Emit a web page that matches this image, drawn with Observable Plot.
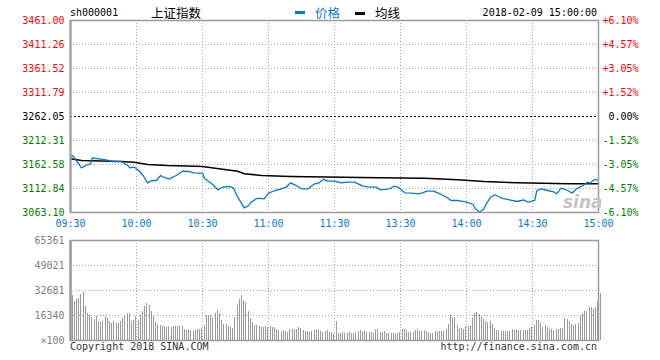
<!DOCTYPE html>
<html><head><meta charset="utf-8">
<script src="https://cdn.jsdelivr.net/npm/d3@7"></script>
<script src="https://cdn.jsdelivr.net/npm/@observablehq/plot@0.6"></script>
<style>
body{margin:0;background:#fff;}
#wrap{position:relative;width:660px;height:360px;overflow:hidden;font-family:"DejaVu Sans Mono",monospace;font-size:10px;color:#000;}
.abs{position:absolute;white-space:nowrap;line-height:12px;}
#price,#vol{position:absolute;left:0;}
.dash{position:absolute;width:10px;height:3px;}
</style></head><body>
<div id="wrap">
  <div id="price" style="top:0"></div>
  <div id="vol" style="top:230px"></div>
  <span class="abs" id="code" style="left:70px;top:7px;"></span>
  <span class="abs" id="name" style="left:151px;top:6px;font-family:'Noto Sans CJK SC',sans-serif;font-size:12.5px;line-height:13px;"></span>
  <span class="dash" style="left:295px;top:11px;background:#0a78c8;"></span>
  <span class="abs" id="lg1" style="left:315px;top:6px;font-family:'Noto Sans CJK SC',sans-serif;font-size:12.5px;line-height:13px;color:#0a78c8;"></span>
  <span class="dash" style="left:355px;top:12px;background:#000;"></span>
  <span class="abs" id="lg2" style="left:375px;top:6px;font-family:'Noto Sans CJK SC',sans-serif;font-size:12.5px;line-height:13px;"></span>
  <span class="abs" id="date" style="right:63px;top:7px;"></span>
  <span class="abs" id="wm" style="left:563px;top:193px;font-family:'DejaVu Sans',sans-serif;font-weight:bold;font-style:italic;font-size:17px;line-height:18px;color:#c4c4c4;"></span>
  <span class="abs" id="copy" style="left:70px;top:341px;color:#333;"></span>
  <span class="abs" id="url" style="right:63px;top:341px;color:#333;"></span>
</div>
<script>
// ---- data ----
const stockCode = "sh000001";
const stockName = "上证指数";
const legendLabels = ["价格", "均线"];
const dateText = "2018-02-09 15:00:00";
const copyText = "Copyright 2018 SINA.COM";
const urlText = "http://finance.sina.com.cn";
const watermark = "sina";

const prevClose = 3262.05;
const tickMinutes = [0, 30, 60, 90, 120, 150, 180, 210, 240];
const timeLabels = ["09:30", "10:00", "10:30", "11:00", "11:30", "13:30", "14:00", "14:30", "15:00"];
const priceTicks = [3063.10, 3112.84, 3162.58, 3212.31, 3262.05, 3311.79, 3361.52, 3411.26, 3461.00];
const pctLabels = ["-6.10%", "-4.57%", "-3.05%", "-1.52%", "0.00%", "+1.52%", "+3.05%", "+4.57%", "+6.10%"];
const volTicks = [0, 16340, 32681, 49021, 65361];
const volLabels = ["×100", "16340", "32681", "49021", "65361"];

const priceMinutes = [0,1,5,7,9,10,13,16,19,23,26,27,29,31,33,35,37,39,41,43,45,48,51,54,56,60,61,64,67,69,72,74,76,79,81,
  82,85,88,90,93,95,98,100,102,105,108,111,113,115,117,120,123,126,129,133,136,139,141,145,147,149,152,155,158,160,
  162,165,168,171,173,176,180,183,184,186,188,189,191,193,196,199,203,206,208,211,212,214,217,220,221,223,226,228,230,233,235,236,238,240];
const priceValues = [3180.0,3181.2,3155.7,3160.5,3164.0,3176.5,3174.4,3172.3,3168.8,3168.8,3160.5,3155.7,3157.0,3150.1,3139.8,3124.6,3129.4,3129.4,3139.8,3135.0,3132.9,3139.8,3148.7,3148.1,3145.4,3144.5,3132.9,3123.8,3110.1,3115.5,3117.0,3114.3,3094.8,3072.8,3077.6,
  3084.4,3092.7,3091.5,3103.1,3108.7,3110.8,3115.5,3124.6,3120.5,3112.2,3112.2,3122.6,3124.6,3132.1,3128.0,3128.0,3124.6,3125.9,3125.9,3117.6,3115.5,3115.5,3110.1,3112.2,3117.6,3115.5,3103.9,3103.1,3101.9,3103.9,
  3107.2,3107.2,3101.9,3094.8,3088.0,3088.0,3084.4,3079.7,3070.8,3063.7,3070.8,3081.1,3094.8,3099.8,3092.7,3090.0,3085.9,3089.4,3084.4,3088.0,3108.7,3112.2,3108.7,3105.2,3101.9,3113.5,3108.7,3103.1,3112.2,3119.1,3125.9,3123.8,3130.9,3130.9];

const avgMinutes = [0,5,23,29,35,44,60,70,76,79,87,100,140,161,176,188,203,226,240];
const avgValues = [3174.4,3170.9,3168.8,3167.3,3162.6,3160.5,3158.4,3152.2,3148.7,3143.3,3139.8,3137.7,3135.0,3134.2,3130.9,3127.3,3124.6,3122.6,3122.6];

const volumes = [
  29400,25700,26800,27600,30100,31600,22200,17500,16300,14800,
  13700,15700,12400,12000,12400,15700,14200,12400,10900,12400,
  11300,10900,12600,14200,15700,17500,17500,12600,13100,15700,
  13100,16300,19000,22200,24400,22900,19000,15700,12000,10300,
  9800,9300,9200,8700,9200,8300,9200,9200,9200,9200,
  9200,7000,6500,6500,6500,6100,6500,7000,7200,7600,
  9800,16300,16300,16300,14800,17500,19600,17500,13100,10300,
  10300,9300,8700,7600,15200,22900,26600,29400,26100,25000,
  19200,14200,11600,9800,9800,9200,8300,8300,9200,8700,
  9200,8300,8700,7000,6500,6100,6500,6100,5400,7000,
  7000,7000,7000,8300,7600,6500,6100,6100,5400,6100,
  6500,7000,6500,6100,5400,6100,6500,5400,5400,3900,
  12600,
  4800,4800,5400,4800,4800,5400,4800,4800,5400,6100,
  6500,6100,6100,5400,5400,5400,4800,7000,7200,5400,
  5400,5900,4800,4400,4400,4400,4400,4400,5400,7000,
  7000,6500,5400,5400,5400,6500,7000,
  5900,5900,6500,5900,5000,4800,4800,5900,5400,5900,5900,
  5900,7200,10500,17000,14600,14800,9800,7600,7600,7200,
  9200,9200,9800,14200,17800,18500,17000,15200,13500,12600,
  12000,12400,10500,7600,6500,6500,6100,5900,5900,5900,
  6100,7200,6500,6500,6500,6500,6500,6500,6500,7600,8300,
  9800,13100,13100,10900,8700,9800,8700,7200,7200,6500,
  7200,7200,7600,7600,14200,13500,12600,10500,9800,10500,10900,
  16300,17800,19200,19200,21400,21400,20300,21400,24600,30900
];

// ---- text ----
document.getElementById("code").textContent = stockCode;
document.getElementById("name").textContent = stockName;
document.getElementById("lg1").textContent = legendLabels[0];
document.getElementById("lg2").textContent = legendLabels[1];
document.getElementById("date").textContent = dateText;
document.getElementById("copy").textContent = copyText;
document.getElementById("url").textContent = urlText;
document.getElementById("wm").textContent = watermark;

// ---- tables ----
const priceData = priceMinutes.map((m, i) => ({m, v: priceValues[i]}));
const avgData = avgMinutes.map((m, i) => ({m, v: avgValues[i]}));
const volData = volumes.map((v, i) => ({m: i, v}));

const gridStyle = {stroke: "#a8a8a8", strokeOpacity: 1, strokeWidth: 1, strokeDasharray: "1,2"};
const FRAME = "#9a9a9a";
const RED = "#ff0000", GREEN = "#008000", BLUE = "#0a78c8";
const font = "DejaVu Sans Mono, monospace";

const upTicks = priceTicks.filter(d => d > prevClose);
const downTicks = priceTicks.filter(d => d < prevClose);
const pctOf = d => pctLabels[priceTicks.indexOf(d)];
const ax = {tickSize: 0, fontSize: 10, label: null};

const price = Plot.plot({
  width: 660, height: 232,
  marginLeft: 70, marginRight: 62, marginTop: 20, marginBottom: 20,
  style: {fontFamily: font, fontSize: "10px", background: "transparent", overflow: "visible"},
  x: {domain: [0, 240], axis: null, label: null},
  y: {domain: [priceTicks[0], priceTicks[priceTicks.length - 1]], axis: null, label: null},
  marks: [
    Plot.gridX(tickMinutes.slice(1, -1), gridStyle),
    Plot.gridY(priceTicks.filter(d => d !== prevClose).slice(1, -1), gridStyle),
    Plot.ruleY([prevClose], {stroke: "#000", strokeWidth: 1, strokeDasharray: "2,2"}),
    Plot.line(avgData, {x: "m", y: "v", stroke: "#000", strokeWidth: 1.6}),
    Plot.line(priceData, {x: "m", y: "v", stroke: BLUE, strokeWidth: 1.3}),
    Plot.frame({stroke: FRAME, strokeWidth: 1.5}),
    Plot.ruleX([0], {stroke: FRAME, strokeWidth: 2}),
    Plot.axisX(tickMinutes, {...ax, anchor: "bottom", tickPadding: 7, fill: BLUE,
      tickFormat: d => timeLabels[tickMinutes.indexOf(d)]}),
    Plot.axisY(upTicks, {...ax, anchor: "left", tickPadding: 6, fill: RED, tickFormat: d => d.toFixed(2)}),
    Plot.axisY([prevClose], {...ax, anchor: "left", tickPadding: 6, fill: "#000", tickFormat: d => d.toFixed(2)}),
    Plot.axisY(downTicks, {...ax, anchor: "left", tickPadding: 6, fill: GREEN, tickFormat: d => d.toFixed(2)}),
    Plot.axisY(upTicks, {...ax, anchor: "right", tickPadding: 40, textAnchor: "end", fill: RED, tickFormat: pctOf}),
    Plot.axisY([prevClose], {...ax, anchor: "right", tickPadding: 40, textAnchor: "end", fill: "#000", tickFormat: pctOf}),
    Plot.axisY(downTicks, {...ax, anchor: "right", tickPadding: 40, textAnchor: "end", fill: GREEN, tickFormat: pctOf})
  ]
});
document.getElementById("price").appendChild(price);

const vol = Plot.plot({
  width: 660, height: 130,
  marginLeft: 70, marginRight: 62, marginTop: 10, marginBottom: 20,
  style: {fontFamily: font, fontSize: "10px", background: "transparent", overflow: "visible"},
  x: {domain: [0, 240], axis: null, label: null},
  y: {domain: [0, volTicks[volTicks.length - 1]], axis: null, label: null},
  marks: [
    Plot.ruleX(volData, {x: "m", y1: 0, y2: "v", stroke: "#9a9a9a", strokeWidth: 1, dx: 1.5, shapeRendering: "crispEdges"}),
    Plot.gridX(tickMinutes.slice(1, -1), gridStyle),
    Plot.gridY(volTicks.slice(1, -1), gridStyle),
    Plot.frame({stroke: FRAME, strokeWidth: 1.5}),
    Plot.ruleX([0], {stroke: FRAME, strokeWidth: 2.5}),
    Plot.axisY(volTicks, {...ax, anchor: "left", tickPadding: 6, fill: "#808080",
      tickFormat: d => volLabels[volTicks.indexOf(d)]})
  ]
});
document.getElementById("vol").appendChild(vol);
</script>
</body></html>
